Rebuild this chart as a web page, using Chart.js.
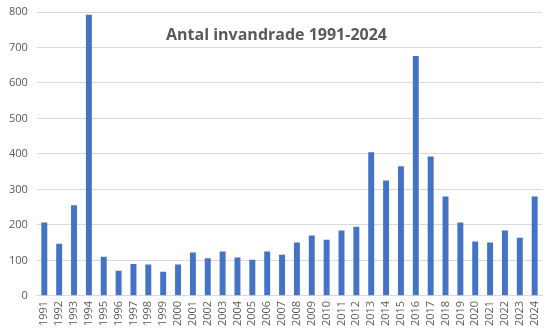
<!DOCTYPE html>
<html>
<head>
<meta charset="utf-8">
<script src="https://cdn.jsdelivr.net/npm/chart.js@4"></script>
<style>
html,body{margin:0;padding:0;background:#fff;}
#wrap{width:553px;height:333px;position:relative;}
</style>
</head>
<body>
<div id="wrap"><canvas id="c" width="553" height="333"></canvas></div>
<script>
const years = ["1991","1992","1993","1994","1995","1996","1997","1998","1999","2000","2001","2002","2003","2004","2005","2006","2007","2008","2009","2010","2011","2012","2013","2014","2015","2016","2017","2018","2019","2020","2021","2022","2023","2024"];
const invandrade = [207,147,255,792,110,71,90,88,68,88,122,106,125,108,102,125,116,150,170,158,184,195,405,325,365,676,393,280,207,153,150,184,164,280];
const chartTitle = "Antal invandrade 1991-2024";

const titlePlugin = {
  id: 'innerTitle',
  afterDraw(chart) {
    const ctx = chart.ctx;
    ctx.save();
    ctx.font = 'bold 16px "Open Sans"';
    ctx.fillStyle = '#595959';
    ctx.textAlign = 'center';
    ctx.textBaseline = 'middle';
    ctx.fillText(chartTitle, chart.width / 2, 35);
    ctx.restore();
  }
};

new Chart(document.getElementById('c'), {
  type: 'bar',
  data: {
    labels: years,
    datasets: [{
      data: invandrade,
      backgroundColor: '#4472C4',
      barPercentage: 0.4,
      categoryPercentage: 1.0
    }]
  },
  options: {
    responsive: false,
    animation: false,
    layout: { padding: { top: 12, right: 9, bottom: 2, left: 0 } },
    plugins: { legend: { display: false }, tooltip: { enabled: false } },
    scales: {
      x: {
        grid: { display: false, drawTicks: false },
        border: { display: true, color: '#d9d9d9' },
        ticks: {
          color: '#595959', font: { family: '"Open Sans"', size: 11 },
          minRotation: 90, maxRotation: 90, autoSkip: false, padding: 5
        }
      },
      y: {
        min: 0, max: 800,
        afterFit(scale) { scale.paddingTop = 0; },
        grid: { color: '#d9d9d9', drawTicks: false },
        border: { display: false },
        ticks: {
          stepSize: 100, color: '#595959', font: { family: '"Open Sans"', size: 11 }, padding: 9
        }
      }
    }
  },
  plugins: [titlePlugin]
});
</script>
</body>
</html>
